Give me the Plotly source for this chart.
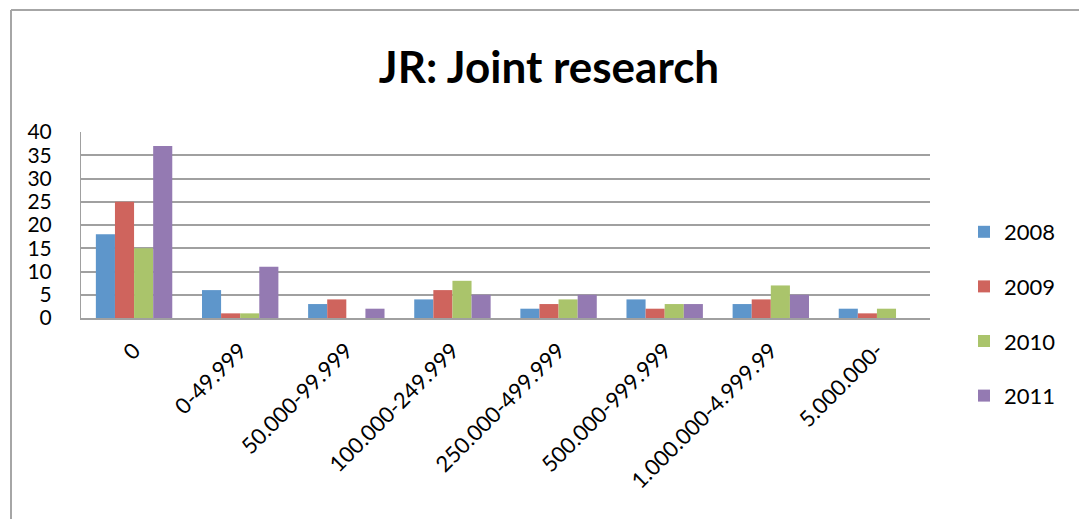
import plotly.graph_objects as go

# Funding bands (x-axis categories)
categories = ["0", "0-49.999", "50.000-99.999", "100.000-249.999",
              "250.000-499.999", "500.000-999.999", "1.000.000-4.999.99", "5.000.000-"]

# Number of joint research projects per band and year
years = ["2008", "2009", "2010", "2011"]
values_2008 = [18, 6, 3, 4, 2, 4, 3, 2]
values_2009 = [25, 1, 4, 6, 3, 2, 4, 1]
values_2010 = [15, 1, 0, 8, 4, 3, 7, 2]
values_2011 = [37, 11, 2, 5, 5, 3, 5, 0]

y_ticks = [0, 5, 10, 15, 20, 25, 30, 35, 40]

series = [values_2008, values_2009, values_2010, values_2011]
colors = ["#5E96CB", "#CF645D", "#AAC46B", "#947AB2"]

FONT = "Lato"

fig = go.Figure()
for year, vals, col in zip(years, series, colors):
    fig.add_trace(go.Bar(
        name=year, x=categories, y=vals,
        marker=dict(color=col, line=dict(width=0)),
        legendgroup=year,
    ))

W, H = 1079, 519
L, R, T, B = 81, 930, 132, 318

fig.update_layout(
    width=W, height=H,
    margin=dict(l=L, r=W - R, t=T, b=H - B, autoexpand=False),
    paper_bgcolor="white", plot_bgcolor="white",
    barmode="group", bargap=0.28, bargroupgap=0,
    font=dict(family=FONT, color="black"),
    title=dict(text="<b>JR: Joint research</b>", x=549 / W, xanchor="center",
               y=1 - 68 / H, yanchor="middle",
               font=dict(family=FONT, size=44, color="black")),
    legend=dict(x=(964 - L) / (R - L), xanchor="left",
                y=(B - 211) / (B - T), yanchor="top",
                font=dict(family=FONT, size=22, color="black"),
                tracegroupgap=23, itemwidth=30, bgcolor="rgba(0,0,0,0)",
                maxheight=300),
    showlegend=True,
)

fig.update_yaxes(
    range=[0, 40], tickvals=y_ticks, ticktext=[str(v) for v in y_ticks],
    showgrid=True, gridcolor="#A0A0A0", gridwidth=2,
    showline=True, linecolor="#A0A0A0", linewidth=1,
    zeroline=False, ticks="", ticklabelstandoff=24,
    tickfont=dict(family=FONT, size=21, color="black"),
    fixedrange=True,
)
fig.update_xaxes(
    showgrid=False, showline=True, linecolor="#A0A0A0", linewidth=2,
    ticks="", tickangle=-45, ticklabelstandoff=9,
    tickfont=dict(family=FONT, size=22, color="black"),
)

# Chart frame (left and top edges)
fx = (11 - L) / (R - L)
fy = (B - 10) / (B - T)
fig.add_shape(type="line", xref="paper", yref="paper", x0=fx, x1=fx, y0=fy, y1=-2,
              line=dict(color="#A6A6A6", width=2))
fig.add_shape(type="line", xref="paper", yref="paper", x0=fx, x1=2, y0=fy, y1=fy,
              line=dict(color="#A6A6A6", width=2))

fig.write_html("out.html")
